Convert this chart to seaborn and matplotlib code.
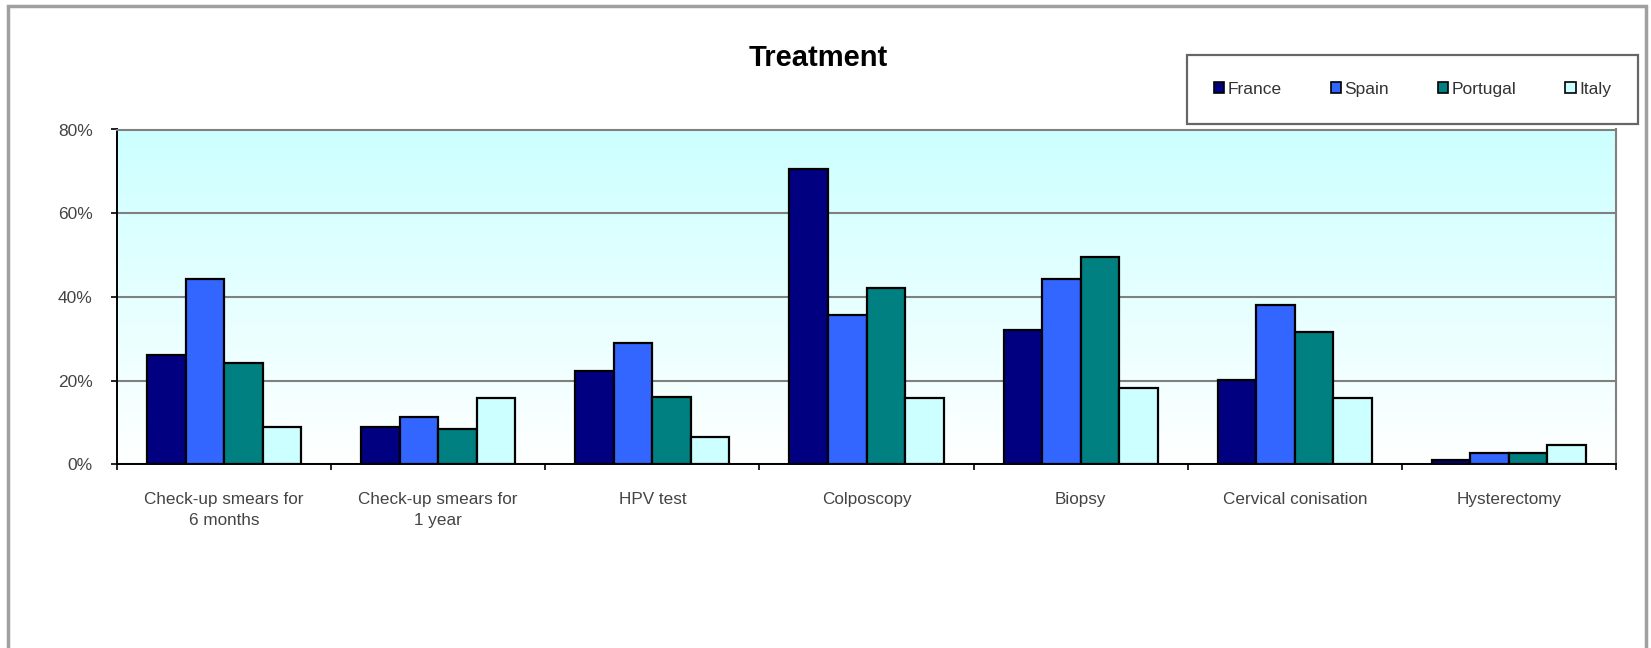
import matplotlib

matplotlib.use("Agg")

import numpy as np
import pandas as pd
import matplotlib.pyplot as plt
from matplotlib.colors import LinearSegmentedColormap
from matplotlib.patches import Rectangle
from matplotlib.ticker import PercentFormatter, FixedLocator
import seaborn as sns

categories = [
    "Check-up smears for\n6 months",
    "Check-up smears for\n1 year",
    "HPV test",
    "Colposcopy",
    "Biopsy",
    "Cervical conisation",
    "Hysterectomy",
]
countries = ["France", "Spain", "Portugal", "Italy"]
france = [26.1, 8.8, 22.4, 70.6, 32.0, 20.2, 1.0]
spain = [44.3, 11.4, 29.1, 35.7, 44.3, 38.1, 2.8]
portugal = [24.3, 8.4, 16.0, 42.1, 49.5, 31.7, 2.8]
italy = [9.0, 15.8, 6.6, 15.8, 18.2, 15.8, 4.6]
colors = ["#000080", "#3366FF", "#008080", "#CCFFFF"]


def main():
    sns.set_style("white")
    plt.rcParams["font.family"] = ["Liberation Sans", "DejaVu Sans"]

    df = pd.DataFrame({
        "Treatment": categories * 4,
        "Country": np.repeat(countries, len(categories)),
        "Share": france + spain + portugal + italy,
    })

    W, H = 1651, 648
    fig = plt.figure(figsize=(W / 100, H / 100), dpi=100)
    ax = fig.add_axes([117 / W, 1 - 464.3 / H, (1616 - 117) / W, (464.3 - 129.5) / H])

    sns.barplot(data=df, x="Treatment", y="Share", hue="Country", order=categories,
                hue_order=countries, palette=colors, width=0.72, edgecolor="black",
                linewidth=1.6, saturation=1, legend=False, ax=ax, zorder=3)

    ax.set_xlim(-0.5, len(categories) - 0.5)
    ax.set_ylim(0, 80)

    # background gradient, light cyan at top to white at bottom
    cmap = LinearSegmentedColormap.from_list("bg", ["#FFFFFF", "#CCFFFF"])
    grad = np.linspace(0, 1, 256).reshape(-1, 1)
    ax.imshow(grad, cmap=cmap, aspect="auto", origin="lower",
              extent=(-0.5, len(categories) - 0.5, 0, 80), zorder=0)

    ax.set_yticks([0, 20, 40, 60, 80])
    ax.yaxis.set_major_formatter(PercentFormatter(xmax=100, decimals=0))
    ax.yaxis.grid(True, color="#808080", linewidth=1.5, zorder=1)
    ax.set_axisbelow(True)
    ax.tick_params(axis="y", direction="out", length=4.5, width=1.2, color="black",
                   pad=13, labelsize=12.5, labelcolor="#444444", left=True)

    ax.xaxis.set_minor_locator(FixedLocator(np.arange(-0.5, len(categories), 1.0)))
    ax.tick_params(axis="x", which="major", length=0, pad=20, labelsize=12.3,
                   labelcolor="#444444")
    ax.tick_params(axis="x", which="minor", direction="out", length=4, width=1.2,
                   color="black", bottom=True)
    for lbl in ax.get_xticklabels():
        lbl.set_linespacing(1.5)

    ax.set_xlabel("")
    ax.set_ylabel("")
    for side in ["left", "bottom"]:
        ax.spines[side].set_color("black")
        ax.spines[side].set_linewidth(1.4)
    for side in ["top", "right"]:
        ax.spines[side].set_color("#808080")
        ax.spines[side].set_linewidth(1.5)

    fig.text(818 / W, 1 - 58 / H, "Treatment", ha="center", va="center",
             fontsize=21, fontweight="bold", color="black")

    handles = [Rectangle((0, 0), 1, 1, facecolor=c, edgecolor="black", linewidth=1.2)
               for c in colors]
    leg = fig.legend(handles, countries, loc="upper left",
                     bbox_to_anchor=(1187 / W, 1 - 55 / H, (1638 - 1187) / W, 0),
                     mode="expand", ncol=4, fontsize=12.5, handlelength=0.6,
                     handleheight=0.6, handletextpad=0.2, borderpad=1.55,
                     borderaxespad=0, fancybox=False, frameon=True,
                     labelcolor="#333333")
    leg.get_frame().set_edgecolor("#404040")
    leg.get_frame().set_linewidth(1.6)

    # outer chart frame
    fig.add_artist(Rectangle((8 / W, -0.05), (1646 - 8) / W, 1.05 - 6 / H,
                             transform=fig.transFigure, fill=False,
                             edgecolor="#A0A0A0", linewidth=2.5, clip_on=False))

    fig.savefig("out.png", dpi=100)
    plt.close(fig)


if __name__ == "__main__":
    main()
